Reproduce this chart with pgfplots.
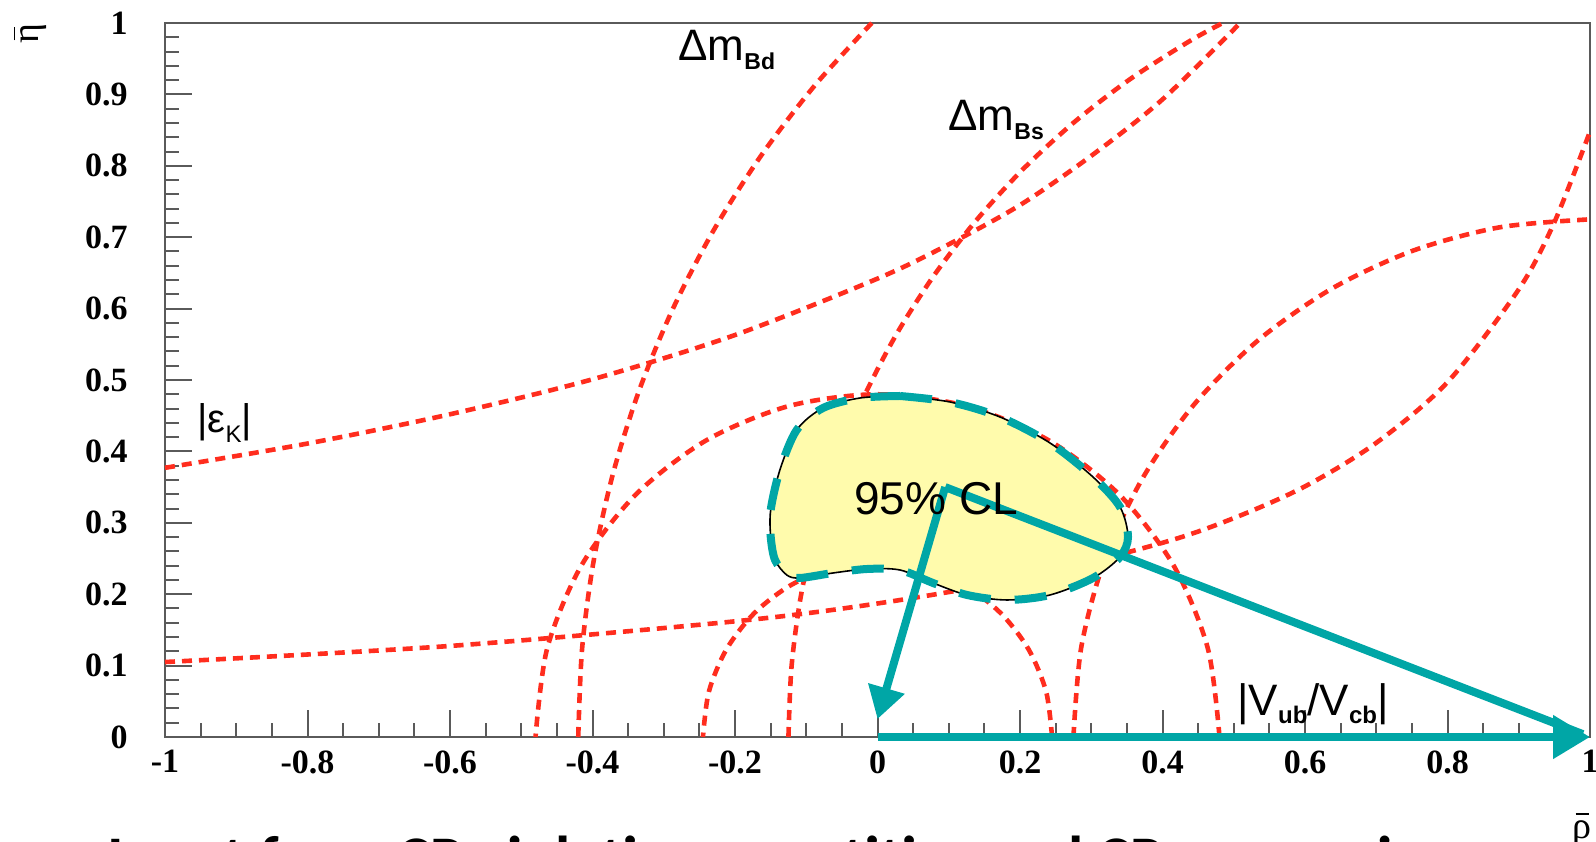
\documentclass[border=0pt]{standalone}
\usepackage{fontspec}
\setmainfont{Liberation Serif}
\newfontfamily\lsans{Liberation Sans}
\newfontfamily\carlito{Carlito}
\usepackage{pgfplots}
\pgfplotsset{compat=1.18}
\usetikzlibrary{arrows.meta}
\definecolor{cred}{RGB}{255,45,30}
\definecolor{cteal}{RGB}{0,166,166}
\definecolor{cyel}{RGB}{255,251,172}
\definecolor{caxis}{RGB}{90,90,90}
\pgfplotsset{redd/.style={cred, line width=2.3pt, dash pattern=on 5pt off 3.5pt, smooth}}
\newcommand{\barred}[1]{\ooalign{\hfil\rule[11.5pt]{6.5pt}{0.9pt}\hfil\cr #1}}
\begin{document}
\begin{tikzpicture}
\begin{axis}[
  at={(0,0)}, anchor=south west,
  scale only axis, width=712.5pt, height=357pt,
  xmin=-1, xmax=1, ymin=0, ymax=1,
  clip=false,
  axis line style={caxis, line width=1pt},
  tick align=inside, xtick pos=bottom, ytick pos=left,
  xtick={-1,-0.8,-0.6,-0.4,-0.2,0,0.2,0.4,0.6,0.8,1},
  xticklabels={-1,-0.8,-0.6,-0.4,-0.2,0,0.2,0.4,0.6,0.8,1},
  ytick={0,0.1,0.2,0.3,0.4,0.5,0.6,0.7,0.8,0.9,1},
  yticklabels={0,0.1,0.2,0.3,0.4,0.5,0.6,0.7,0.8,0.9,1},
  minor x tick num=3, minor y tick num=4,
  major tick length=13.5pt, minor tick length=7pt,
  tick style={caxis, line width=1pt},
  ticklabel style={font=\fontsize{17}{17}\selectfont\bfseries},
  xticklabel style={anchor=north, inner sep=0pt, yshift=-6.5pt},
  yticklabel style={anchor=east, inner sep=0pt, xshift=-18.5pt},
]
% |eps_K| upper
\addplot[redd] coordinates {(-1,0.377) (-0.8,0.411) (-0.6,0.452) (-0.4,0.501) (-0.2,0.563) (0,0.642) (0.1,0.690) (0.2,0.745) (0.3,0.814) (0.4,0.893) (0.509,1.0)};
% |eps_K| lower
\addplot[redd] coordinates {(-1,0.105) (-0.6,0.1275) (-0.2,0.162) (0,0.187) (0.2,0.2216) (0.4,0.272) (0.5,0.3065) (0.6,0.351) (0.7,0.412) (0.8,0.497) (0.9,0.627) (0.95,0.721) (1.0,0.848)};
% |Vub/Vcb| outer
\addplot[redd] coordinates {(0.48,0) (0.4636,0.1242) (0.4157,0.24) (0.3394,0.3394) (0.24,0.4157) (0.1242,0.4636) (0,0.48) (-0.1242,0.4636) (-0.24,0.4157) (-0.3394,0.3394) (-0.4157,0.24) (-0.4636,0.1242) (-0.48,0)};
% |Vub/Vcb| inner
\addplot[redd] coordinates {(0.245,0) (0.2367,0.0634) (0.2122,0.1225) (0.1732,0.1732) (0.1225,0.2122) (0.0634,0.2367) (0,0.245) (-0.0634,0.2367) (-0.1225,0.2122) (-0.1732,0.1732) (-0.2122,0.1225) (-0.2367,0.0634) (-0.245,0)};
% Delta m outer
\addplot[redd] coordinates {(-0.42,0) (-0.4146,0.1238) (-0.3984,0.2466) (-0.3716,0.3675) (-0.3344,0.4857) (-0.2870,0.6001) (-0.2298,0.71) (-0.1632,0.8145) (-0.0878,0.9128) (-0.008,1.0)};
% Delta m Bs
\addplot[redd] coordinates {(-0.125,0) (-0.1207,0.0981) (-0.1079,0.1954) (-0.0867,0.2912) (-0.0572,0.3848) (-0.0196,0.4754) (0.0257,0.5625) (0.0785,0.6453) (0.1382,0.7231) (0.2045,0.7955) (0.2769,0.8618) (0.3547,0.9215) (0.4375,0.9743) (0.4845,1.0)};
% Delta m inner
\addplot[redd] coordinates {(0.275,0) (0.286,0.1259) (0.3187,0.248) (0.3721,0.3625) (0.4446,0.466) (0.534,0.5554) (0.6375,0.6279) (0.752,0.6813) (0.8741,0.714) (1,0.725)};
% 95% CL region
\addplot[fill=cyel, draw=black, line width=0.8pt, smooth] coordinates {(0.0316,0.4776) (0.1018,0.4692) (0.1719,0.4482) (0.2421,0.4118) (0.3025,0.3641) (0.3404,0.3221) (0.3516,0.2801) (0.3404,0.2521) (0.3025,0.2227) (0.2421,0.1989) (0.1818,0.1919) (0.1256,0.1989) (0.0779,0.2157) (0.0316,0.2339) (-0.0147,0.2353) (-0.0625,0.2297) (-0.1088,0.2227) (-0.1274,0.2269) (-0.1439,0.2480) (-0.1499,0.2806) (-0.1499,0.3180) (-0.1370,0.3740) (-0.1134,0.4300) (-0.0765,0.4608) (-0.0246,0.4748) (0.0316,0.4776)};
\addplot[cteal, line width=4pt, dash pattern=on 16pt off 12pt, smooth] coordinates {(0.0316,0.4776) (0.1018,0.4692) (0.1719,0.4482) (0.2421,0.4118) (0.3025,0.3641) (0.3404,0.3221) (0.3516,0.2801) (0.3404,0.2521) (0.3025,0.2227) (0.2421,0.1989) (0.1818,0.1919) (0.1256,0.1989) (0.0779,0.2157) (0.0316,0.2339) (-0.0147,0.2353) (-0.0625,0.2297) (-0.1088,0.2227) (-0.1274,0.2269) (-0.1439,0.2480) (-0.1499,0.2806) (-0.1499,0.3180) (-0.1370,0.3740) (-0.1134,0.4300) (-0.0765,0.4608) (-0.0246,0.4748) (0.0316,0.4776)};
% unitarity triangle
\addplot[cteal, line width=4pt] coordinates {(0.095,0.35) (0.99,0.004)};
\addplot[cteal, line width=4pt, -{Triangle[length=16pt,width=18pt]}] coordinates {(0.095,0.35) (0.0,0.025)};
\addplot[cteal, line width=4pt, -{Triangle[length=18.5pt,width=21pt]}] coordinates {(0,0) (1,0)};
% labels
\node[anchor=base west, inner sep=0pt, font=\lsans\fontsize{22}{22}\selectfont] at (axis cs:-0.28,0.948) {Δm\raisebox{-4.5pt}{\fontsize{11.5}{11.5}\selectfont\bfseries Bd}};
\node[anchor=base west, inner sep=0pt, font=\lsans\fontsize{22}{22}\selectfont] at (axis cs:0.099,0.850) {Δm\raisebox{-4.5pt}{\fontsize{11.5}{11.5}\selectfont\bfseries Bs}};
\node[anchor=base west, inner sep=0pt, font=\lsans\fontsize{20}{20}\selectfont] at (axis cs:-0.955,0.4258) {|ε\raisebox{-5pt}{\fontsize{12}{12}\selectfont K}|};
\node[anchor=base west, inner sep=0pt, font=\lsans\fontsize{22}{22}\selectfont] at (axis cs:0.5046,0.0308) {|V\raisebox{-4pt}{\fontsize{12}{12}\selectfont\bfseries ub}/V\raisebox{-4pt}{\fontsize{12}{12}\selectfont\bfseries cb}|};
\node[anchor=base west, inner sep=0pt, font=\lsans\fontsize{23}{23}\selectfont] at (axis cs:-0.033,0.311) {95\% CL};
\node[rotate=90, inner sep=0pt, font=\rmfamily\fontsize{19}{19}\selectfont] at (axis cs:-1.1895,0.9846) {\barred{η}};
\node[anchor=north, inner sep=0pt, font=\rmfamily\fontsize{19}{19}\selectfont] at (axis cs:0.9888,-0.1064) {\barred{ρ}};
\node[anchor=base west, inner sep=0pt, font=\carlito\bfseries\fontsize{31}{31}\selectfont] at (axis cs:-1.0814,-0.2) {Input from CP violating quantities and CP conserving};
\coordinate (bbSW) at (axis cs:-1.2316,-0.14706);
\coordinate (bbNE) at (axis cs:1.00842,1.03221);
\end{axis}
\pgfresetboundingbox
\useasboundingbox (bbSW) rectangle (bbNE);
\end{tikzpicture}
\end{document}
